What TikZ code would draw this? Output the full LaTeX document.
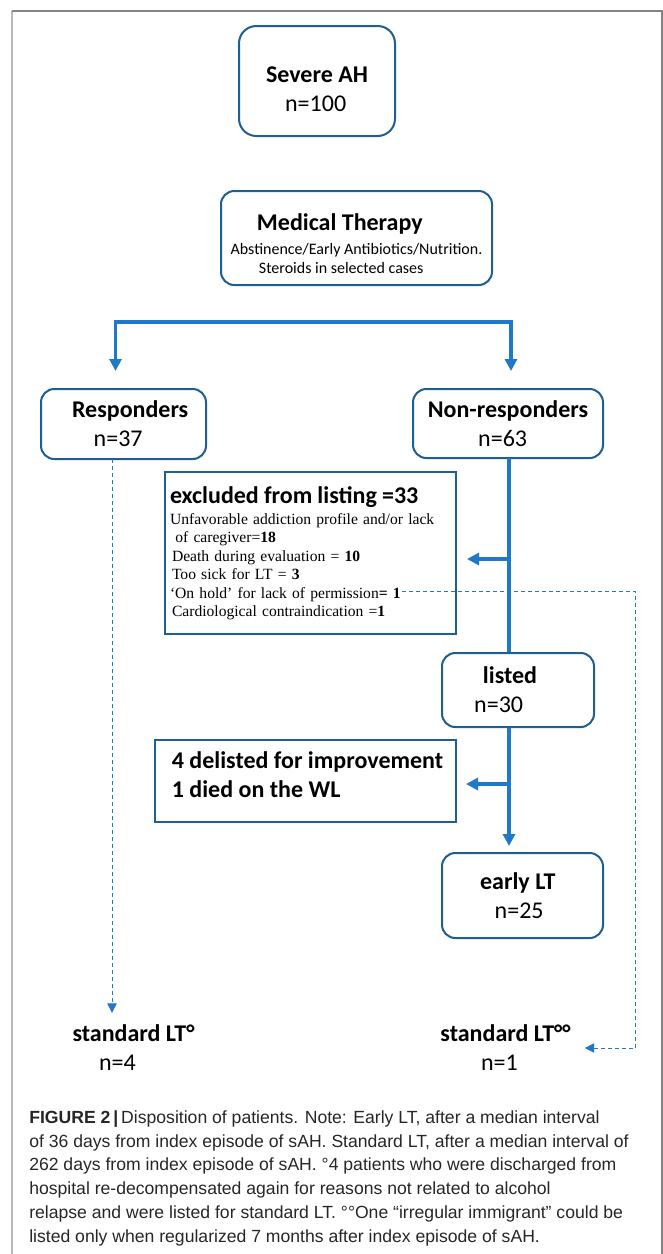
\documentclass[tikz,border=0pt]{standalone}
\usepackage{fontspec}
\setmainfont{Carlito}
\newfontfamily\serifrm{Liberation Serif}
\newfontfamily\capsans{Liberation Sans}
\usetikzlibrary{arrows.meta}

\definecolor{boxblue}{RGB}{31,94,145}
\definecolor{flowblue}{RGB}{32,120,200}
\definecolor{framegray}{RGB}{130,130,130}
\definecolor{framelight}{RGB}{185,185,185}

\newcommand{\bigtxt}{\fontsize{18}{21.75}\selectfont}
\newcommand{\smalltxt}{\fontsize{12}{14.25}\selectfont}

\tikzset{
  rbox/.style={draw=boxblue, line width=1.5pt, rounded corners=10pt, align=center, inner sep=0pt, font=\bigtxt},
  sbox/.style={draw=boxblue, line width=1.5pt, inner sep=0pt},
  flow/.style={draw=flowblue, line width=2.5pt},
  flowtip/.style={-{Triangle[length=9pt,width=9pt]}},
  dashflow/.style={draw=flowblue, line width=0.75pt, dash pattern=on 3pt off 2.25pt, -{Triangle[length=7pt,width=7pt]}},
  plain/.style={inner sep=0pt, align=center, font=\bigtxt},
}

\begin{document}
\begin{tikzpicture}[x=0.75pt,y=0.75pt,yscale=-1,xscale=1]
\useasboundingbox (0,0) rectangle (663,1254);

% frame
\draw [framelight, line width=1.5pt] (12,1254) -- (12,11) ;
\draw [framegray, line width=1pt] (12,11) -- (662,11) -- (662,1254) ;

% Boxes
\node [rbox, rounded corners=13pt, minimum width=117pt, minimum height=82.5pt] (sah) at (317,81)
  {{\rule{0pt}{24.5pt}\bfseries Severe AH}\\ n=100\hspace*{2pt}};
\node [rbox, font=\smalltxt, minimum width=203.25pt, minimum height=70.5pt] (medth) at (356.5,238)
  {{\rule{0pt}{21pt}\bigtxt\bfseries Medical Therapy}\hspace*{25pt}\\[3.75pt]
   Abstinence/Early Antibiotics/Nutrition.\hspace*{5pt}\\
   Steroids in selected cases\hspace*{23pt}};
\node [rbox, minimum width=123.75pt, minimum height=52.5pt] (resp) at (123.5,424)
  {\hspace*{10pt}{\bfseries Responders}\\ n=37\hspace*{8pt}};
\node [rbox, minimum width=142.5pt, minimum height=51.75pt] (nonr) at (508,423.5)
  {{\bfseries Non-responders}\\ n=63\hspace*{8pt}};
\node [sbox, font=\serifrm\fontsize{11.7}{13.8}\selectfont, align=left, text width=210.75pt, inner xsep=3.75pt,
       minimum height=121.5pt] (excl) at (310.5,553)
  {{\normalfont\bigtxt\bfseries excluded from listing =33}\\[2.2pt]
   Unfavorable addiction profile and/or lack\\
   \hspace*{4pt}of caregiver=\textbf{18}\\
   \hspace*{1.5pt}Death during evaluation = \textbf{10}\\
   \hspace*{1.5pt}Too sick for LT = \textbf{3}\\
   ‘On hold’ for lack of permission\textbf{= 1}\\
   \hspace*{1.5pt}Cardiological contraindication =\textbf{1}\\[6pt]};
\node [rbox, minimum width=114pt, minimum height=55.5pt] (listed) at (518,690)
  {{\bfseries listed}\hspace*{12pt}\\ n=30\hspace*{29pt}};
\node [sbox, font=\bigtxt, align=left, minimum width=225.75pt, minimum height=61.5pt] (delist) at (305.5,781)
  {\hspace*{3pt}\bfseries 4 delisted for improvement\\
   \hspace*{3pt}\bfseries 1 died on the WL\rule[-9pt]{0pt}{9pt}};
\node [rbox, minimum width=120.75pt, minimum height=63.75pt] (early) at (522.5,895.5)
  {{\bfseries early LT}\hspace*{7pt}\\ n=25\hspace*{5pt}};

% Text Node
\node [plain] (std1) at (133.5,1048) {{\bfseries standard LT°}\\ n=4\hspace*{24pt}};
% Text Node
\node [plain] (std2) at (505.5,1048) {{\bfseries standard LT°°}\\ n=1\hspace*{9pt}};

% bracket to both groups
\coordinate (brL) at (115.5,322);
\coordinate (brR) at (511,322);
\draw [flow, {Triangle[length=9pt,width=9pt]}-{Triangle[length=9pt,width=9pt]}, shorten <=12.75pt, shorten >=12.75pt]
  (brL |- resp.north) -- (brL) -- (brR) -- (brR |- nonr.north);

% main trunk
\coordinate (trunk) at (509,458);
\coordinate (j1) at (509,559);
\coordinate (j2) at (509,784);
\draw [flow] (trunk) -- (trunk |- listed.north);
\draw [flow, flowtip, shorten >=7.5pt] (j1) -- (excl.east |- j1);
\draw [flow, flowtip, shorten >=4.5pt] (trunk |- listed.south) -- (trunk |- early.north);
\draw [flow, flowtip, shorten >=6.75pt] (j2) -- (delist.east |- j2);

% dashed routes
\coordinate (dtop) at (112,459);
\draw [dashflow, shorten >=9pt] (dtop) -- (dtop |- std1.north);
\coordinate (hold) at (402,591);
\coordinate (hcol) at (635.5,591);
\draw [dashflow, shorten >=10.5pt] (hold) -- (hcol) |- (std2.east);

% caption
\node [anchor=base west, inner sep=0pt, align=left, text=black!85,
       font=\capsans\fontsize{13.2}{17.8}\selectfont] (cap) at (29,1242)
  {{\bfseries FIGURE 2\,|}\,Disposition of patients. Note: Early LT, after a median interval\\
   of 36 days from index episode of sAH. Standard LT, after a median interval of\\
   262 days from index episode of sAH. °4 patients who were discharged from\\
   hospital re-decompensated again for reasons not related to alcohol\\
   relapse and were listed for standard LT. °°One “irregular immigrant” could be\\
   listed only when regularized 7 months after index episode of sAH.};

\end{tikzpicture}
\end{document}
